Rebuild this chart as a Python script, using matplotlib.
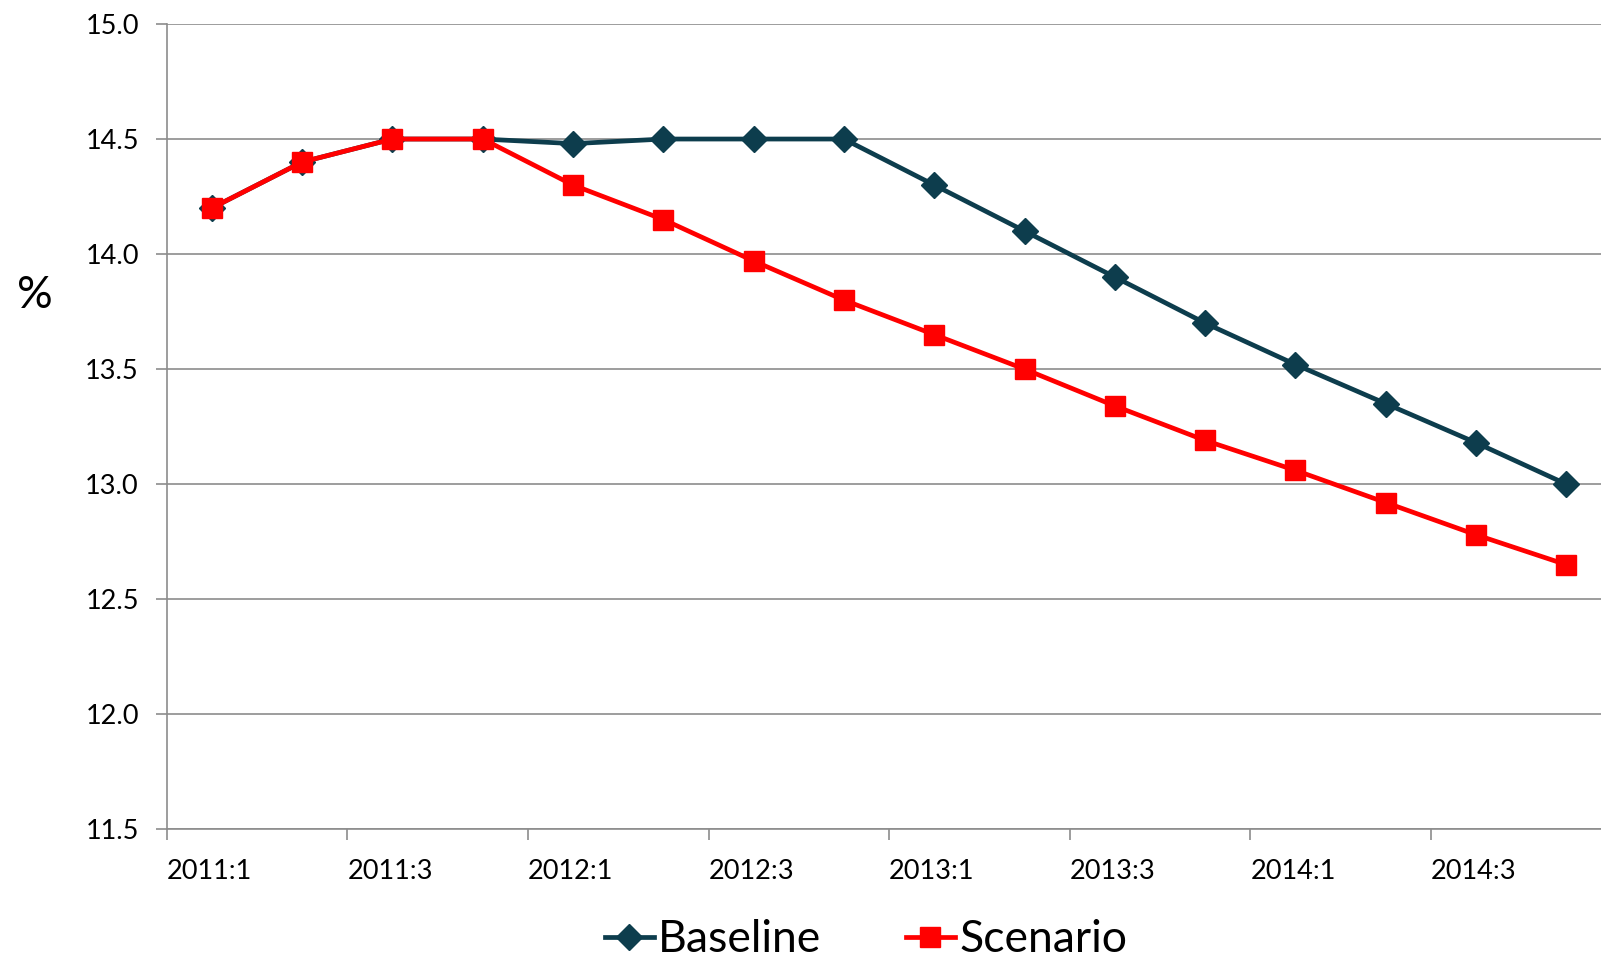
import matplotlib
matplotlib.use("Agg")
import matplotlib.pyplot as plt
import numpy as np

plt.rcParams['font.family'] = ['Lato', 'DejaVu Sans']

quarters = ['2011:1', '2011:2', '2011:3', '2011:4',
            '2012:1', '2012:2', '2012:3', '2012:4',
            '2013:1', '2013:2', '2013:3', '2013:4',
            '2014:1', '2014:2', '2014:3', '2014:4']
baseline = [14.2, 14.4, 14.5, 14.5, 14.48, 14.5, 14.5, 14.5,
            14.3, 14.1, 13.9, 13.7, 13.52, 13.35, 13.18, 13.0]
scenario = [14.2, 14.4, 14.5, 14.5, 14.3, 14.15, 13.97, 13.8,
            13.65, 13.5, 13.34, 13.19, 13.06, 12.92, 12.78, 12.65]
yticks = [11.5, 12.0, 12.5, 13.0, 13.5, 14.0, 14.5, 15.0]

fig = plt.figure(figsize=(16.01, 9.59), dpi=100)
# the plot area runs a little past the right edge of the figure
ax = fig.add_axes([0.1041, 0.1352, 0.9025, 0.8398])

x = np.arange(len(quarters)) + 0.5
ax.plot(x, baseline, color='#0d3d4d', lw=3.4, marker='D', ms=13.5,
        label='Baseline', zorder=3)
ax.plot(x, scenario, color='#ff0000', lw=3.4, marker='s', ms=15,
        label='Scenario', zorder=4)

ax.set_xlim(0, len(quarters))
ax.set_ylim(11.5, 15.0)
ax.set_yticks(yticks)
ax.set_yticklabels([f'{v:.1f}' for v in yticks])
ax.set_xticks(np.arange(0, len(quarters), 2))
ax.set_xticklabels(quarters[::2], ha='left')

ax.grid(axis='y', color='#8c8c8c', lw=1.2)
ax.set_axisbelow(True)
for s in ['top', 'right']:
    ax.spines[s].set_visible(False)
for s in ['left', 'bottom']:
    ax.spines[s].set_color('#8c8c8c')
    ax.spines[s].set_linewidth(1.2)
ax.tick_params(axis='y', length=8, width=1.2, color='#8c8c8c', pad=12,
               labelsize=19.5)
ax.tick_params(axis='x', length=8, width=1.2, color='#8c8c8c', pad=13,
               labelsize=19.5)

fig.text(0.022, 0.692, '%', fontsize=32, ha='center', va='center')

fig.legend(loc='center', bbox_to_anchor=(0.541, 0.02), ncol=2, frameon=False,
           fontsize=32, handlelength=1.1, handletextpad=0.1, columnspacing=1.9,
           borderaxespad=0)

fig.savefig('out.png', dpi=100)
